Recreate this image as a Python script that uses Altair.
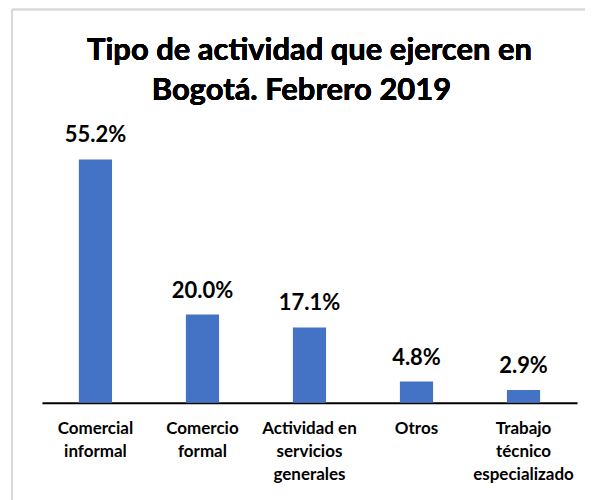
import altair as alt
import pandas as pd

title_line1 = "Tipo de actividad que ejercen en"
title_line2 = "Bogotá. Febrero 2019"
categories = ["Comercial|informal", "Comercio|formal", "Actividad en|servicios|generales", "Otros", "Trabajo|técnico|especializado"]
values = [55.2, 20.0, 17.1, 4.8, 2.9]
labels = ["55.2%", "20.0%", "17.1%", "4.8%", "2.9%"]

df = pd.DataFrame({"cat": categories, "val": values, "lab": labels})

FONT = "Lato"

x = alt.X("cat:N", sort=categories, title=None,
          scale=alt.Scale(paddingInner=0.69, paddingOuter=0.345),
          axis=alt.Axis(labelAngle=0, labelExpr="split(datum.label, '|')",
                        labelFont=FONT, labelFontSize=17, labelFontWeight="bold",
                        labelColor="#000000", labelLineHeight=23, labelPadding=31,
                        labelBaseline="alphabetic", ticks=False, domainColor="#000000",
                        domainWidth=2, labelLimit=200))
y = alt.Y("val:Q", title=None, scale=alt.Scale(domain=[0, 60]), axis=None)

bars = alt.Chart(df).mark_bar(color="#4472C4").encode(x=x, y=y)
text = alt.Chart(df).mark_text(font=FONT, fontSize=22, fontWeight="bold", color="#000000",
                               baseline="alphabetic", dy=-17).encode(x=x, y=y, text="lab:N")

title1 = alt.Chart(df).mark_text(font=FONT, fontSize=31, fontWeight="bold", color="#000000",
                                 baseline="alphabetic", align="center").encode(
    x=alt.value(268), y=alt.value(-78), text=alt.value(title_line1))
title2 = alt.Chart(df).mark_text(font=FONT, fontSize=31, fontWeight="bold", color="#000000",
                                 baseline="alphabetic", align="center").encode(
    x=alt.value(260), y=alt.value(-38), text=alt.value(title_line2))

border_top = alt.Chart(df).mark_rule(color="#d9d9d9", strokeWidth=1.5).encode(
    x=alt.value(-30), x2=alt.value(544), y=alt.value(-129))
border_left = alt.Chart(df).mark_rule(color="#d9d9d9", strokeWidth=1.5).encode(
    x=alt.value(-30), y=alt.value(-129), y2=alt.value(400))

chart = alt.layer(border_top, border_left, title1, title2, bars, text).properties(
    width=536, height=265,
    padding={"left": 3, "top": 0, "right": 0, "bottom": 0},
).configure_view(stroke=None)

chart.save("out.html", embed_options={"renderer": "svg", "actions": False})
